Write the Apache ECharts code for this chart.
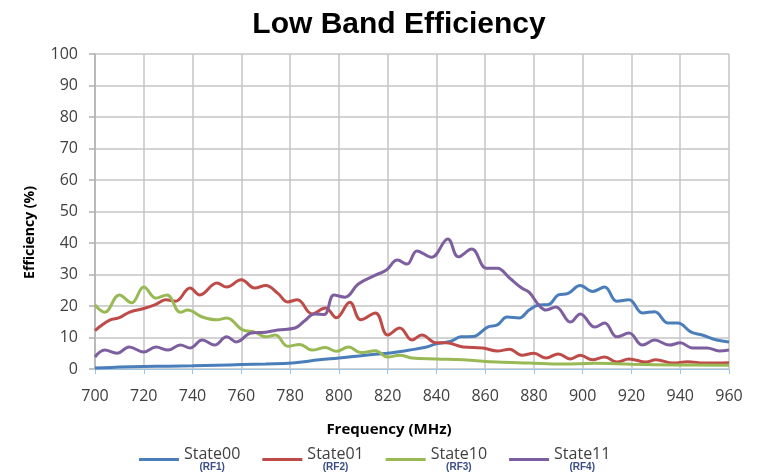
<!DOCTYPE html>
<html>
<head>
<meta charset="utf-8">
<script src="https://cdn.jsdelivr.net/npm/echarts@6/dist/echarts.min.js"></script>
<style>
  html, body { margin: 0; padding: 0; background: #fff; }
  #chart { width: 764px; height: 475px; }
</style>
</head>
<body>
<div id="chart"></div>
<script>
// 读图得到的数据 [频率 MHz, 效率 %]
var state00 = [[700,0.3],[710,0.6],[720,0.8],[730,0.9],[740,1.0],[750,1.2],[760,1.4],[770,1.6],[781,1.9],[792,2.9],[800,3.5],[811,4.4],[820,5],[829,6],[836,7],[840,8],[846,8.8],[850,10.2],[855,10.3],[861,13.3],[865,14],[869,16.5],[874,16.2],[878,18.7],[882,20.3],[886,20.5],[890,23.5],[894,24],[899,26.5],[904,24.6],[909,26],[914,21.5],[919,22],[924.5,17.8],[929.5,18.2],[935,14.6],[939,14.6],[944.5,11.7],[949,10.8],[955,9.2],[960,8.6]];
var state01 = [[700,12.2],[706,15.5],[710,16.3],[714,18],[720,19.2],[725,20.5],[729,22],[733,21.5],[739,25.7],[743,23.5],[750,27.3],[754,26],[760,28.3],[765.5,25.7],[770,26.5],[775,24],[779,21.3],[783,22],[789,17.5],[794.5,19.4],[799,16.3],[804.5,21.2],[809,15.6],[815,17.8],[820,10.8],[825,13],[830,9.2],[834,10.8],[840,8.3],[844,8.3],[851,7],[859,6.7],[865,5.7],[870,6.3],[875,4.4],[880,5],[885,3.5],[890,4.8],[895,3.2],[899,4.4],[904,2.9],[909,3.8],[914,2.2],[919,3.2],[926,2.2],[930,2.9],[937,1.9],[943,2.3],[950,1.9],[960,2]];
var state10 = [[700,20.3],[704,18],[710,23.5],[715,21],[720,26],[725,22.5],[729.5,23.5],[735,18],[738,18.7],[744,16.5],[750,15.6],[754,16.2],[760.5,12.4],[765.5,11.7],[770,10.2],[774,10.8],[779,7.2],[784,7.8],[789,6],[794.5,6.8],[799,5.6],[804,7],[809,5.2],[815,5.8],[820,3.8],[825,4.4],[830,3.5],[840,3.2],[851,2.9],[865,2.2],[878,1.9],[892,1.6],[905,1.8],[920,1.5],[940,1.3],[960,1.2]];
var state11 = [[700,3.8],[704,6],[709,5],[714,7],[720,5.4],[725,7],[730,6],[735,7.6],[739,6.7],[744,9.2],[749,7.6],[754,10.2],[758,8.6],[764,11.4],[770,11.7],[775,12.4],[782,13],[786,15.3],[790,17.5],[794,17.3],[798,23.5],[802.5,22.8],[808,27],[815,29.8],[819.5,31.4],[824,34.6],[828,33.3],[832,37.5],[838,35.5],[844.7,41.3],[849,35.6],[854.5,38.1],[860.5,32],[865,32],[870,28.9],[875,25.7],[878,24.4],[882,20.3],[885,18.7],[889,19.7],[895,14.9],[899,17.5],[905,13.3],[909,14.6],[914,10.2],[919,11.4],[924.5,7.6],[929.5,9.2],[935.5,7.6],[940,8.3],[945,6.7],[951,6.7],[956,5.7],[960,6]];

var seriesNames = ['State00', 'State01', 'State10', 'State11'];
var portNames = ['(RF1)', '(RF2)', '(RF3)', '(RF4)'];
var seriesColors = ['#4a7ebb', '#be4b48', '#98b954', '#7d5fa0'];

var myChart = echarts.init(document.getElementById('chart'));

var allData = [state00, state01, state10, state11];
var serie = [];
for (var i = 0; i < allData.length; i++) {
    serie.push({
        name: seriesNames[i],
        type: 'line',
        data: allData[i],
        smooth: 0.4,
        symbol: 'none',
        lineStyle: { width: 3, color: seriesColors[i] },
        itemStyle: { color: seriesColors[i] }
    });
}

var option = {
    backgroundColor: '#fff',
    animation: false,
    title: {
        text: 'Low Band Efficiency',
        left: 394,
        textAlign: 'center',
        top: 5,
        textStyle: {
            fontFamily: 'Liberation Sans',
            fontSize: 30,
            fontWeight: 'bold',
            color: '#000'
        }
    },
    grid: {
        left: 95,
        right: 35,
        top: 54,
        bottom: 106
    },
    legend: {
        data: seriesNames,
        left: 134,
        top: 441,
        itemWidth: 40,
        itemHeight: 3,
        itemGap: 22,
        icon: 'rect',
        textStyle: {
            fontFamily: 'Open Sans',
            fontSize: 16,
            color: '#404040',
            rich: {
                a: { fontFamily: 'Open Sans', fontSize: 16, color: '#404040', lineHeight: 16 },
                b: { fontFamily: 'Liberation Sans', fontSize: 10, fontWeight: 'bold', color: '#3b4f86', lineHeight: 11, align: 'center' }
            }
        },
        formatter: function(name) {
            var idx = seriesNames.indexOf(name);
            return '{a|' + name + '}\n{b|' + portNames[idx] + '}';
        }
    },
    xAxis: {
        type: 'value',
        min: 700,
        max: 960,
        interval: 20,
        name: 'Frequency (MHz)',
        nameLocation: 'middle',
        nameGap: 53,
        nameTextStyle: {
            fontFamily: 'Open Sans',
            fontSize: 15,
            fontWeight: 'bold',
            color: '#000',
            padding: [0, 46, 0, 0]
        },
        axisLine: { lineStyle: { color: '#9dc3e6', width: 1 } },
        axisTick: { show: true, length: 5, lineStyle: { color: '#9dc3e6' } },
        axisLabel: {
            fontFamily: 'Open Sans',
            fontSize: 16,
            color: '#404040',
            margin: 19
        },
        splitLine: { show: true, lineStyle: { color: '#c4c4c4', width: 1.5 } }
    },
    yAxis: {
        type: 'value',
        min: 0,
        max: 100,
        interval: 10,
        name: 'Efficiency (%)',
        nameLocation: 'middle',
        nameGap: 58,
        nameTextStyle: {
            fontFamily: 'Open Sans',
            fontSize: 14,
            fontWeight: 'bold',
            color: '#000',
            padding: [0, 42, 0, 0]
        },
        axisLine: { show: true, lineStyle: { color: '#b0b0b0', width: 1.5 } },
        axisTick: { show: true, length: 6, lineStyle: { color: '#b0b0b0', width: 1.5 } },
        axisLabel: {
            fontFamily: 'Open Sans',
            fontSize: 16,
            color: '#404040',
            margin: 17
        },
        splitLine: { show: true, lineStyle: { color: '#c4c4c4', width: 1.5 } }
    },
    series: serie
};

myChart.setOption(option);
</script>
</body>
</html>
